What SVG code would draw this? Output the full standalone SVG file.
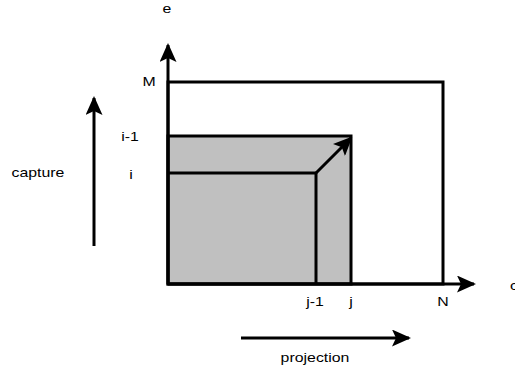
<svg xmlns="http://www.w3.org/2000/svg" width="515" height="371" viewBox="0 0 515 371">
<style>
text{font-family:"Liberation Sans",Arial,sans-serif;font-size:13px;fill:#000;text-anchor:middle}
.l{stroke:#000;stroke-width:3;fill:none}
.g{stroke:#000;stroke-width:3;fill:#c0c0c0}
</style>
<defs>
<marker id="ahb" markerWidth="19" markerHeight="17" refX="17" refY="8.5" orient="auto" markerUnits="userSpaceOnUse" viewBox="0 0 19 17">
<path d="M0,0 L19,8.5 L0,17 L4,8.5 Z" fill="#000"/>
</marker>
</defs>
<g id="region">
<rect x="168" y="136" width="183" height="148" class="g"/>
<rect x="168" y="82" width="275" height="202" class="l"/>
<polyline points="168,173 316,173 316,284" class="l"/>
</g>
<g id="connectors">
<line x1="168" y1="284" x2="168" y2="45" class="l" marker-end="url(#ahb)"/>
<line x1="168" y1="284" x2="474" y2="284" class="l" marker-end="url(#ahb)"/>
<line x1="316" y1="173" x2="351" y2="138" class="l" marker-end="url(#ahb)"/>
<line x1="94" y1="246" x2="94" y2="98" class="l" marker-end="url(#ahb)"/>
<line x1="241" y1="338" x2="409" y2="338" class="l" marker-end="url(#ahb)"/>
</g>
<g id="labels">
<text transform="translate(167,13) scale(1.22,1)">e</text>
<text transform="translate(149,86) scale(1.22,1)">M</text>
<text transform="translate(130,141) scale(1.22,1)">i-1</text>
<text transform="translate(131,179) scale(1.22,1)">i</text>
<text transform="translate(38,177) scale(1.22,1)">capture</text>
<text transform="translate(315,306) scale(1.22,1)">j-1</text>
<text transform="translate(351,306) scale(1.22,1)">j</text>
<text transform="translate(443,306) scale(1.22,1)">N</text>
<text transform="translate(510,290) scale(1.22,1)" style="text-anchor:start">c</text>
<text transform="translate(315,362) scale(1.22,1)">projection</text>
</g>
</svg>
